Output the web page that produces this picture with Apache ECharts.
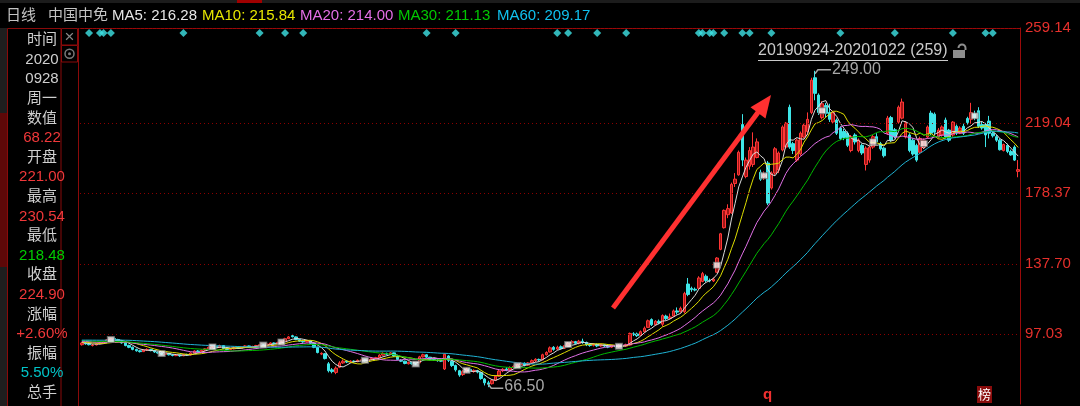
<!DOCTYPE html>
<html><head><meta charset="utf-8">
<script src="https://cdn.jsdelivr.net/npm/echarts@6/dist/echarts.min.js"></script>
<style>html,body{margin:0;padding:0;background:#000;}#c{width:1080px;height:406px;}</style>
</head><body><div id="c"></div>
<script>
// ---------- data ----------
const stockName = '中国中免';
const periodName = '日线';
const rangeLabel = '20190924-20201022 (259)';
const tickValues = [97.03, 137.70, 178.37, 219.04];
const topTickLabel = '259.14';
const maHeader = [['MA5','216.28'],['MA10','215.84'],['MA20','214.00'],['MA30','211.13'],['MA60','209.17']];
const panelRows = [['时间','label'],['2020','label'],['0928','label'],['周一','label'],['数值','label'],['68.22','up'],
  ['开盘','label'],['221.00','up'],['最高','label'],['230.54','up'],['最低','label'],['218.48','down'],
  ['收盘','label'],['224.90','up'],['涨幅','label'],['+2.60%','up'],['振幅','label'],['5.50%','amp'],['总手','label']];
// closes before the visible range (for moving averages)
const priorCloses = [90.5,91.2,91.8,92.5,93.0,92.4,91.6,92.2,93.1,93.8,
  94.2,93.5,92.8,93.4,94.0,94.6,95.1,94.5,93.9,94.3,
  94.8,95.2,95.8,95.3,94.6,94.9,95.4,95.9,95.5,94.8,
  94.4,94.9,95.3,94.7,94.1,93.6,94.0,94.5,94.2,93.7,
  93.2,93.6,94.1,93.8,93.3,92.8,93.2,93.7,93.4,93.0,
  92.6,93.1,92.8,92.4,92.9,93.3,92.7,92.2,91.8];
// [open, close, low, high]
const candles = [
[91.0,92.0,90.5,92.5],[92.0,91.5,91.0,92.6],[91.5,91.0,90.6,92.0],[90.6,90.8,90.0,91.4],[90.9,91.5,90.6,92.0],
[91.6,92.0,91.2,92.5],[92.0,92.8,91.8,93.3],[92.8,93.8,92.5,94.3],[93.6,94.5,93.3,95.0],[94.6,94.0,93.6,95.2],
[94.0,93.2,92.8,94.4],[93.2,92.0,91.6,93.5],[92.0,90.5,90.1,92.3],[90.6,89.5,89.0,91.0],[89.6,88.3,87.8,89.9],
[88.3,87.5,87.0,88.7],[87.5,87.0,86.5,88.0],[87.0,88.0,86.8,88.5],[87.9,88.3,87.5,88.9],[88.3,87.6,87.2,88.6],
[87.6,86.8,86.3,87.9],[86.8,86.2,85.7,87.2],[86.2,85.5,85.0,86.5],[85.4,86.0,85.1,86.4],[86.0,85.2,84.8,86.3],
[85.2,84.8,84.3,85.6],[84.7,85.0,84.4,85.5],[85.0,84.6,84.0,85.3],[84.6,85.3,84.4,85.7],[85.3,85.0,84.6,85.8],
[85.0,86.2,84.9,86.6],[86.2,87.4,86.0,87.8],[87.4,87.0,86.6,87.9],[87.0,87.8,86.8,88.2],[87.8,88.6,87.5,89.0],
[88.6,89.5,88.3,90.0],[89.5,90.0,89.1,90.6],[90.0,89.4,89.0,90.4],[89.4,90.5,89.2,91.0],[90.5,88.8,88.4,90.8],
[88.8,88.2,87.8,89.2],[88.2,88.6,87.9,89.0],[88.6,89.3,88.3,89.8],[89.3,89.0,88.6,89.7],[89.0,89.6,88.7,90.0],
[89.6,90.3,89.3,90.7],[90.3,89.7,89.3,90.5],[89.7,90.0,89.4,90.4],[90.0,90.5,89.7,90.9],[90.5,91.0,90.2,91.4],
[91.0,90.6,90.2,91.3],[90.6,91.4,90.4,91.8],[91.4,92.0,91.1,92.4],[92.0,91.6,91.2,92.3],[91.6,92.3,91.4,92.7],
[92.3,92.8,92.0,93.3],[92.8,94.5,92.6,95.0],[94.5,95.5,94.2,96.0],[96.2,95.6,95.2,97.2],[95.5,94.0,93.6,95.8],
[94.0,93.0,92.6,94.3],[93.0,92.6,92.1,93.4],[92.6,93.2,92.3,93.7],[93.2,91.8,91.4,93.4],[91.8,89.5,89.0,92.0],
[89.5,86.5,86.0,89.8],[85.6,86.0,85.0,86.6],[85.8,83.0,82.5,86.2],[80.0,76.0,75.0,81.0],[76.5,75.5,74.5,77.5],
[75.0,77.5,74.0,78.5],[78.0,80.5,77.5,81.5],[80.5,81.5,80.0,82.5],[81.5,81.0,80.4,82.0],[81.0,81.5,80.6,82.0],
[81.5,81.2,80.7,82.0],[81.2,82.0,80.9,82.5],[82.0,82.3,81.6,82.8],[82.3,81.8,81.3,82.7],[81.8,82.5,81.5,83.0],
[82.5,83.2,82.2,83.7],[83.2,83.5,82.8,84.0],[83.5,85.0,83.3,85.5],[85.0,86.0,84.7,86.6],[86.0,85.5,85.0,86.4],
[85.5,86.3,85.2,86.8],[86.3,84.5,84.0,86.5],[84.5,82.5,82.0,84.8],[82.0,81.5,81.0,82.6],[81.5,80.2,79.7,81.8],
[80.0,80.8,79.6,81.3],[80.8,80.0,79.5,81.2],[80.0,79.8,79.2,80.6],[80.5,84.0,80.3,84.6],[84.0,85.2,83.6,85.8],
[85.2,83.8,83.3,85.5],[83.8,82.5,82.0,84.0],[82.5,82.2,81.6,83.0],[82.2,81.8,81.2,82.6],[81.8,81.5,81.0,82.3],
[77.0,85.5,76.4,86.0],[84.5,82.0,81.0,85.0],[81.5,79.0,78.2,82.0],[79.0,76.5,75.5,79.5],[76.0,73.5,72.5,76.5],
[73.8,75.5,73.0,76.5],[75.5,77.0,74.8,77.8],[76.8,75.8,75.0,77.5],[75.5,76.2,74.8,76.8],[76.0,75.2,74.5,76.5],
[75.0,71.5,70.8,75.3],[71.2,69.0,67.5,71.8],[69.0,68.2,66.5,70.2],[68.5,70.5,68.0,71.0],[70.5,72.8,70.0,73.5],
[72.8,75.8,72.5,76.5],[76.0,76.8,75.2,77.5],[77.0,76.5,75.8,78.0],[76.5,77.8,76.0,78.5],[78.0,78.5,77.2,79.2],
[78.3,79.5,77.8,80.0],[79.5,80.2,79.0,81.0],[80.3,79.2,78.5,80.8],[79.2,80.5,78.8,81.0],[80.6,81.8,80.0,82.5],
[81.8,82.6,81.0,83.2],[82.5,82.2,81.5,83.0],[82.3,85.2,82.0,85.8],[85.2,86.5,84.8,87.2],[86.8,89.2,86.5,90.0],
[89.5,88.3,87.5,90.2],[88.5,89.5,88.0,90.4],[89.8,88.8,88.2,90.6],[89.0,90.5,88.6,91.0],[90.5,91.8,90.0,92.5],
[92.0,92.8,91.5,93.6],[92.8,91.8,91.2,93.2],[91.8,93.0,91.2,93.8],[93.0,92.2,91.5,94.5],[92.3,91.0,90.2,92.8],
[91.0,90.6,89.8,91.6],[90.6,91.2,90.0,91.8],[91.2,90.3,89.6,91.7],[90.3,91.0,89.8,91.6],[91.0,90.2,89.5,91.4],
[90.2,89.6,89.0,90.8],[89.6,90.5,89.2,91.0],[90.4,89.8,89.0,91.0],[89.8,90.5,89.3,91.2],[90.5,90.2,89.5,91.0],
[90.2,91.0,89.8,91.6],[90.8,97.5,90.5,98.0],[97.3,96.8,96.0,98.2],[97.2,96.2,95.5,98.0],[96.5,98.5,96.0,99.2],
[98.5,100.5,98.0,101.5],[101.0,104.8,100.8,105.5],[105.5,102.5,101.8,106.2],[102.5,104.5,102.0,105.2],[104.5,103.5,102.8,105.5],
[102.8,107.8,101.5,108.5],[107.5,106.0,105.2,108.3],[106.2,107.0,105.5,109.0],[107.5,110.5,107.0,111.3],[110.5,109.8,108.5,112.5],
[110.0,112.0,109.5,113.0],[110.0,120.5,109.0,121.5],[126.0,120.0,119.0,129.5],[123.5,122.8,121.5,124.5],[123.0,122.5,121.8,124.0],
[123.5,129.5,123.0,130.5],[127.5,132.0,127.0,133.0],[130.5,128.0,127.0,131.5],[128.0,127.8,127.0,129.2],[127.8,128.8,127.2,129.8],
[132.8,141.0,132.5,141.5],[146.0,155.0,145.5,155.5],[158.5,168.5,158.0,169.0],[166.0,169.5,164.0,172.0],[167.0,183.5,166.5,184.5],
[184.0,186.5,182.0,190.0],[189.0,202.0,188.5,203.0],[218.0,197.5,194.0,224.0],[188.0,197.5,187.0,199.0],[194.0,203.0,192.0,205.0],
[195.0,205.0,193.5,213.5],[199.0,208.0,198.5,210.0],[190.5,186.5,185.5,192.0],[188.0,189.0,186.0,191.0],[195.8,172.7,171.5,197.0],
[181.4,190.0,180.5,191.0],[190.0,204.0,189.0,205.0],[191.7,201.6,190.0,202.5],[203.3,216.6,202.5,217.5],[205.0,218.8,204.0,219.5],
[228.0,205.0,204.0,229.5],[207.0,203.0,201.0,208.0],[197.5,209.0,196.5,210.0],[201.0,213.0,200.0,214.0],[210.8,217.6,210.0,218.5],
[214.0,221.0,212.0,225.0],[225.0,243.6,224.0,245.0],[245.0,236.0,232.0,249.0],[235.0,225.0,223.5,236.0],[222.0,230.0,221.0,231.5],
[229.0,224.5,222.0,230.5],[225.0,221.0,219.5,230.0],[219.5,225.0,218.5,226.0],[220.6,213.0,212.0,221.5],[216.0,210.0,209.0,217.0],
[214.0,210.5,209.0,215.5],[213.0,206.0,205.0,214.0],[203.0,211.0,202.0,212.0],[212.0,208.0,206.5,213.0],[203.0,209.0,202.0,210.0],
[206.0,201.6,200.5,207.0],[195.0,204.4,191.5,205.5],[197.5,205.0,196.0,206.0],[205.0,211.0,204.0,212.0],[211.0,208.0,207.0,213.0],
[207.0,204.0,203.0,208.0],[204.4,200.0,199.0,205.0],[213.0,221.7,212.0,223.0],[222.0,209.0,208.0,223.0],[215.0,211.0,210.0,216.0],
[219.4,228.0,218.5,229.0],[221.7,231.0,221.0,233.0],[210.8,219.0,210.0,220.0],[212.0,203.0,202.0,213.0],[209.0,201.0,200.0,210.0],
[206.0,197.5,196.5,207.0],[202.0,210.0,201.0,211.0],[205.0,209.0,204.0,210.0],[210.8,216.6,210.0,217.5],[224.6,213.0,212.0,226.0],
[224.0,213.6,212.5,225.0],[210.8,214.8,210.0,216.0],[212.0,216.6,211.0,217.5],[220.6,210.8,210.0,222.0],[214.8,209.0,208.0,215.5],
[212.0,219.4,211.0,220.0],[217.0,213.0,212.0,218.0],[213.0,216.0,212.5,217.0],[217.0,213.0,212.0,218.5],[221.5,219.2,218.0,222.5],
[221.0,224.9,218.48,230.54],[224.0,222.0,220.5,226.0],[226.0,217.0,216.0,228.0],[218.0,216.0,215.0,219.5],[218.0,212.0,205.0,219.0],
[220.0,213.0,210.0,223.0],[213.0,211.5,210.5,214.0],[211.0,209.0,208.0,212.0],[209.0,203.5,203.0,210.0],[203.0,206.5,202.5,207.0],
[206.0,202.5,201.5,207.0],[202.5,200.5,200.0,203.5],[205.0,197.5,197.0,206.0],[191.0,192.0,187.6,197.5]
];
const categories = candles.map((_, i) => String(i));
const signalIdx = [2,5,6,8,28,49,56,61,95,103,131,134,142,150,170,171,173,174,177,182,184,190,209,224,240,249,251];
const markerIdx = [8,22,36,50,55,78,92,106,120,134,148,175,188,204,218,232,246];
const maPeriods = [5,10,20,30,60];

// ---------- styles ----------
const FONT = '"Liberation Sans", Arial, "Noto Sans CJK SC", sans-serif';
const maColors = ['#dcdcdc','#dede00','#e070e6','#00b800','#1fb3d4'];
const maTextColors = ['#e6e6e6','#e6e600','#e46ee6','#00c800','#10c0ee'];
const panelColors = {label:'#cfcfcf', up:'#f0383a', down:'#00cc00', amp:'#00c4c8'};
const yMin = 56.8, yMax = 273.7;

const closesAll = priorCloses.concat(candles.map(c => c[1]));
function ma(n) {
  const off = priorCloses.length;
  return candles.map((_, i) => {
    const j = i + off;
    if (j - n + 1 < 0) return null;
    let s = 0;
    for (let k = j - n + 1; k <= j; k++) s += closesAll[k];
    return +(s / n).toFixed(3);
  });
}

const chart = echarts.init(document.getElementById('c'), null, {renderer: 'canvas'});
const series = [{
  type: 'candlestick', data: candles, barWidth: 3, z: 2, silent: true,
  itemStyle: {color: '#a01616', color0: '#3ee6e8', borderColor: '#ff3636', borderColor0: '#3ee6e8', borderWidth: 1},
  markLine: {
    silent: true, symbol: ['none','none'], animation: false,
    lineStyle: {type: [1,3], color: '#8c0000', width: 1},
    label: {show: true, position: 'end', distance: 5, color: '#e6302c', fontSize: 15, fontFamily: FONT},
    data: tickValues.map(v => ({yAxis: v, label: {formatter: v.toFixed(2)}}))
      .concat([{yAxis: yMax, label: {formatter: topTickLabel}}])
  }
}];
maPeriods.forEach((p, k) => {
  series.push({type: 'line', name: 'MA' + p, data: ma(p), symbol: 'none', silent: true, z: 3,
    lineStyle: {width: 1, color: maColors[k]}});
});
series.push({type: 'scatter', yAxisIndex: 1, symbol: 'diamond', symbolSize: [8, 8], silent: true, z: 4,
  itemStyle: {color: '#3fe4e6'}, data: signalIdx.map(i => [i, 1.3])});
series.push({type: 'scatter', symbol: 'rect', symbolSize: [7, 6], silent: true, z: 5,
  itemStyle: {color: '#f2f2f2', borderColor: '#6a6a6a', borderWidth: 1},
  data: markerIdx.map(i => [i, (candles[i][0] + candles[i][1]) / 2])});

chart.setOption({
  backgroundColor: '#000',
  animation: false,
  grid: {left: 80, right: 60, top: 28, bottom: 2, containLabel: false, outerBoundsMode: 'none'},
  xAxis: {type: 'category', data: categories, boundaryGap: true,
    axisLine: {show: true, lineStyle: {color: '#9a0a0a', width: 1}}, axisTick: {show: false}, axisLabel: {show: false}, splitLine: {show: false}},
  yAxis: [
    {type: 'value', position: 'right', min: yMin, max: yMax, scale: true,
      axisLine: {show: true, lineStyle: {color: '#9a0a0a', width: 1}}, axisTick: {show: false}, axisLabel: {show: false}, splitLine: {show: false}},
    {type: 'value', min: 0, max: 100, inverse: true, show: false}
  ],
  series: series
});

// ---------- decorations ----------
const g = [];
g.push({type: 'rect', shape: {x: 0, y: 0, width: 1080, height: 3}, style: {fill: '#1c1c1c'}, silent: true});
g.push({type: 'rect', shape: {x: 237, y: 0, width: 25, height: 3}, style: {fill: '#a00000'}, silent: true});
g.push({type: 'rect', shape: {x: 0, y: 28, width: 7, height: 378}, style: {fill: '#1e1e1e'}, silent: true});
g.push({type: 'rect', shape: {x: 0, y: 113, width: 7, height: 154}, style: {fill: '#5e0808'}, silent: true});
g.push({type: 'rect', shape: {x: 7.5, y: 28.5, width: 53.5, height: 380}, style: {fill: 'none', stroke: '#8a0a0a', lineWidth: 1}, silent: true});
g.push({type: 'rect', shape: {x: 61.5, y: 28.5, width: 16, height: 16.5}, style: {fill: 'none', stroke: '#8a0a0a', lineWidth: 1}, silent: true});
g.push({type: 'rect', shape: {x: 61.5, y: 45.5, width: 16, height: 16.5}, style: {fill: 'none', stroke: '#8a0a0a', lineWidth: 1}, silent: true});
g.push({type: 'text', x: 69.5, y: 37, style: {text: '×', fill: '#8a8a8a', font: '17px ' + FONT, align: 'center', verticalAlign: 'middle', textAlign: 'center', textVerticalAlign: 'middle'}, silent: true});
g.push({type: 'circle', shape: {cx: 69.5, cy: 53.8, r: 4.5}, style: {fill: 'none', stroke: '#7a7a7a', lineWidth: 1.5}, silent: true});
g.push({type: 'circle', shape: {cx: 69.5, cy: 53.8, r: 1.5}, style: {fill: '#7a7a7a'}, silent: true});
g.push({type: 'line', shape: {x1: 78.5, y1: 28, x2: 78.5, y2: 406}, style: {stroke: '#8a0a0a', lineWidth: 1}, silent: true});

function txt(t, x, y, color, size, align) {
  return {type: 'text', x: x, y: y, silent: true, z: 20,
    style: {text: t, fill: color, font: size + 'px ' + FONT, align: align || 'left', verticalAlign: 'middle',
      textAlign: align || 'left', textVerticalAlign: 'middle'}};
}
// header
g.push(txt(periodName, 6, 16, '#c4c4c4', 15));
g.push(txt(stockName, 48, 16, '#c4c4c4', 15));
const headerX = [112, 202, 300, 398, 497];
maHeader.forEach((m, k) => g.push(txt(m[0] + ': ' + m[1], headerX[k], 16, maTextColors[k], 15)));
// left info panel
panelRows.forEach((r, k) => g.push(txt(r[0], 42, 40 + k * 19.6, panelColors[r[1]], 15, 'center')));
// red trend arrow
g.push({type: 'line', shape: {x1: 613, y1: 308, x2: 759, y2: 111}, style: {stroke: '#ff3030', lineWidth: 5}, silent: true, z: 15});
g.push({type: 'polygon', shape: {points: [[771, 95], [765.5, 118.5], [750.5, 107.3]]}, style: {fill: '#ff3030'}, silent: true, z: 15});
// range label + lock
g.push(txt(rangeLabel, 758, 51, '#cacaca', 16));
g.push({type: 'line', shape: {x1: 758, y1: 60.5, x2: 948, y2: 60.5}, style: {stroke: '#cacaca', lineWidth: 1}, silent: true});
g.push({type: 'rect', shape: {x: 953, y: 50, width: 12, height: 8}, style: {fill: '#8e8e8e'}, silent: true});
g.push({type: 'arc', shape: {cx: 962, cy: 48, r: 3.5, startAngle: Math.PI, endAngle: 2 * Math.PI}, style: {stroke: '#8e8e8e', lineWidth: 2, fill: 'none'}, silent: true});
g.push({type: 'line', shape: {x1: 965.5, y1: 48, x2: 965.5, y2: 50}, style: {stroke: '#8e8e8e', lineWidth: 2}, silent: true});
// bottom marks
g.push({type: 'text', x: 767.5, y: 395, silent: true, style: {text: 'q', fill: '#f03030', font: 'bold 15px ' + FONT, align: 'center', verticalAlign: 'middle', textAlign: 'center', textVerticalAlign: 'middle'}});
g.push({type: 'rect', shape: {x: 977, y: 386, width: 15, height: 17}, style: {fill: '#8a0c0c'}, silent: true});
g.push({type: 'text', x: 984.5, y: 394.5, silent: true, style: {text: '榜', fill: '#ffffff', font: '13px "Noto Sans CJK SC", sans-serif', align: 'center', verticalAlign: 'middle', textAlign: 'center', textVerticalAlign: 'middle'}});

// max / min annotations from data
let maxI = 0, minI = 0;
candles.forEach((c, i) => { if (c[3] > candles[maxI][3]) maxI = i; if (c[2] < candles[minI][2]) minI = i; });
const pMax = chart.convertToPixel({seriesIndex: 0}, [maxI, candles[maxI][3]]);
const pMin = chart.convertToPixel({seriesIndex: 0}, [minI, candles[minI][2]]);
const annC = '#a8a8a8';
g.push({type: 'polyline', shape: {points: [[pMax[0], pMax[1] + 3], [pMax[0] + 3, pMax[1] - 1], [pMax[0] + 16, pMax[1] - 1]]}, style: {stroke: annC, lineWidth: 1.5, fill: 'none'}, silent: true, z: 20});
g.push(txt(candles[maxI][3].toFixed(2), pMax[0] + 17, pMax[1] - 1, annC, 16));
g.push({type: 'polyline', shape: {points: [[pMin[0], pMin[1] - 3], [pMin[0] + 3, pMin[1] + 1], [pMin[0] + 15, pMin[1] + 1]]}, style: {stroke: annC, lineWidth: 1.5, fill: 'none'}, silent: true, z: 20});
g.push(txt(candles[minI][2].toFixed(2), pMin[0] + 16, pMin[1] - 1, annC, 16));

chart.setOption({graphic: {elements: g}});
</script>
</body></html>
